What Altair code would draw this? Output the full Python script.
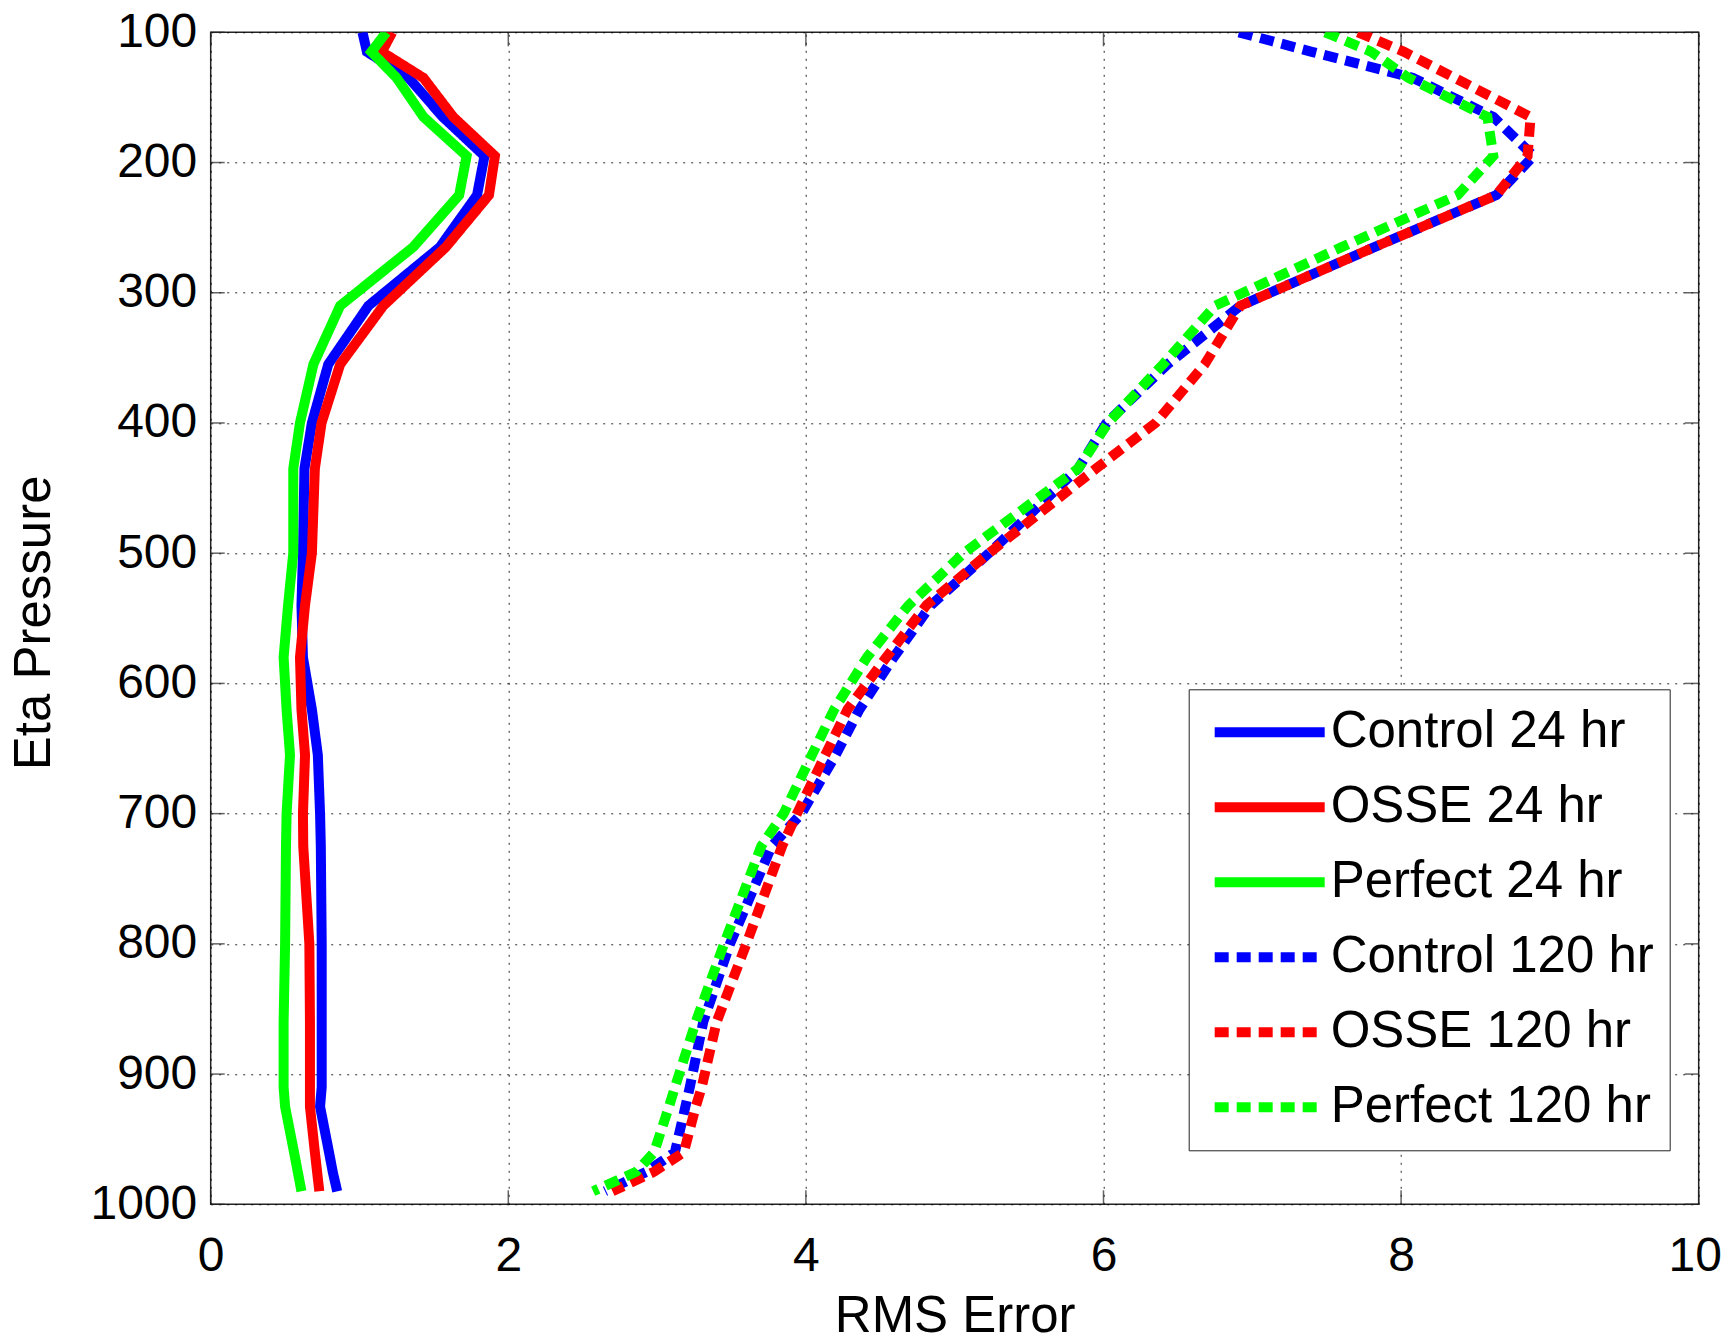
import altair as alt
import pandas as pd

# ---------------- data ----------------
levels = [100, 115, 135, 165, 195, 225, 265, 310, 355, 400, 435, 500, 540,
          580, 620, 655, 700, 725, 800, 860, 910, 925, 960, 975, 990]

control_24 = [1.02, 1.05, 1.33, 1.56, 1.84, 1.79, 1.54, 1.06, 0.79, 0.68, 0.63, 0.62, 0.61,
              0.62, 0.68, 0.72, 0.735, 0.74, 0.746, 0.746, 0.746, 0.735, 0.795, 0.82, 0.85]
osse_24 = [1.22, 1.15, 1.43, 1.63, 1.91, 1.87, 1.58, 1.16, 0.87, 0.745, 0.70, 0.68, 0.634,
           0.60, 0.61, 0.634, 0.62, 0.622, 0.663, 0.667, 0.667, 0.667, 0.70, 0.715, 0.73]
perfect_24 = [1.18, 1.08, 1.25, 1.43, 1.72, 1.67, 1.36, 0.87, 0.69, 0.60, 0.555, 0.555, 0.52,
              0.49, 0.51, 0.533, 0.51, 0.506, 0.50, 0.49, 0.49, 0.50, 0.56, 0.585, 0.61]
control_120 = [6.91, 7.40, 8.08, 8.62, 8.89, 8.64, 7.82, 6.92, 6.43, 6.02, 5.83, 5.23, 4.84,
               4.59, 4.36, 4.20, 3.97, 3.77, 3.49, 3.31, 3.22, 3.19, 3.12, 2.93, 2.65]
osse_120 = [7.71, 8.02, 8.36, 8.87, 8.85, 8.64, 7.82, 6.92, 6.68, 6.35, 5.95, 5.23, 4.81,
            4.54, 4.28, 4.13, 3.94, 3.84, 3.60, 3.40, 3.30, 3.26, 3.18, 2.98, 2.70]
perfect_120 = [7.49, 7.80, 8.05, 8.58, 8.62, 8.38, 7.60, 6.75, 6.40, 6.03, 5.83, 5.06, 4.69,
               4.41, 4.19, 4.04, 3.85, 3.70, 3.45, 3.26, 3.12, 3.08, 2.98, 2.86, 2.57]

series_names = ["Control 24 hr", "OSSE 24 hr", "Perfect 24 hr",
                "Control 120 hr", "OSSE 120 hr", "Perfect 120 hr"]
series_values = [control_24, osse_24, perfect_24, control_120, osse_120, perfect_120]

x_ticks = [0, 2, 4, 6, 8, 10]
y_ticks = [100, 200, 300, 400, 500, 600, 700, 800, 900, 1000]

# ---------------- styles ----------------
colors = ["#0000ff", "#ff0000", "#00ff00", "#0000ff", "#ff0000", "#00ff00"]
dashes = [[1, 0], [1, 0], [1, 0], [14, 8], [14, 8], [14, 8]]
FONT = "Liberation Sans"
W, H = 1488, 1172

rows = []
for name, vals in zip(series_names, series_values):
    for p, v in zip(levels, vals):
        rows.append({"series": name, "p": p, "rms": v})
df = pd.DataFrame(rows)

xscale = alt.Scale(domain=[0, 10], nice=False, zero=False)
yscale = alt.Scale(domain=[100, 1000], reverse=True, nice=False, zero=False)

lines = alt.Chart(df).mark_line(strokeWidth=10, clip=True).encode(
    x=alt.X("rms:Q", scale=xscale,
            axis=alt.Axis(values=x_ticks, format="d", title="RMS Error", labelPadding=28,
                          labelFlush=False,
                          labelOffset=alt.condition("datum.value == 10", alt.value(-4), alt.value(0)),
                          titleX=W / 2, titleY=127, titleAlign="center",
                          titleBaseline="alphabetic")),
    y=alt.Y("p:Q", scale=yscale,
            axis=alt.Axis(values=y_ticks, format="d", title="Eta Pressure", labelPadding=14,
                          labelFlush=False,
                          titleX=-161, titleY=590, titleAlign="center",
                          titleBaseline="alphabetic", titleAngle=270)),
    color=alt.Color("series:N", title=None,
                    scale=alt.Scale(domain=series_names, range=colors)),
    strokeDash=alt.StrokeDash("series:N", title=None,
                              scale=alt.Scale(domain=series_names, range=dashes)),
    order=alt.Order("p:Q"),
)

ytick_df = pd.DataFrame({"p": y_ticks})
xtick_df = pd.DataFrame({"rms": x_ticks})
tick_style = dict(size=14, thickness=1.5, color="#222")

left_ticks = alt.Chart(ytick_df).mark_tick(orient="horizontal", **tick_style).encode(
    y=alt.Y("p:Q", scale=yscale), x=alt.value(7))
right_ticks = alt.Chart(ytick_df).mark_tick(orient="horizontal", **tick_style).encode(
    y=alt.Y("p:Q", scale=yscale), x=alt.value(W - 7))
bottom_ticks = alt.Chart(xtick_df).mark_tick(orient="vertical", **tick_style).encode(
    x=alt.X("rms:Q", scale=xscale), y=alt.value(H - 7))
top_ticks = alt.Chart(xtick_df).mark_tick(orient="vertical", **tick_style).encode(
    x=alt.X("rms:Q", scale=xscale), y=alt.value(7))

chart = alt.layer(lines, left_ticks, right_ticks, bottom_ticks, top_ticks).properties(
    width=W, height=H,
    padding={"left": 202.7, "top": 24.3, "right": 23, "bottom": 130},
    autosize=alt.AutoSizeParams(type="none"),
    background="white",
).configure_view(
    stroke="#222", strokeWidth=1.5, fill="white"
).configure_axis(
    labelFont=FONT, labelFontSize=48, labelColor="black",
    titleFont=FONT, titleFontSize=51, titleFontWeight="normal", titleColor="black",
    grid=True, gridColor="black", gridDash=[2, 6], gridWidth=1, gridOpacity=0.85,
    ticks=False, tickSize=0, domain=False,
).configure_legend(
    orient="none", legendX=978, legendY=657,
    padding=15, strokeColor="#222", fillColor="white", cornerRadius=0,
    symbolType="stroke", symbolSize=12100, symbolStrokeWidth=10,
    clipHeight=56, rowPadding=19, labelOffset=1, symbolOffset=6,
    labelFont=FONT, labelFontSize=51, labelColor="black", labelLimit=0,
)

chart.save("out.html", embed_options={"renderer": "svg", "actions": False})
